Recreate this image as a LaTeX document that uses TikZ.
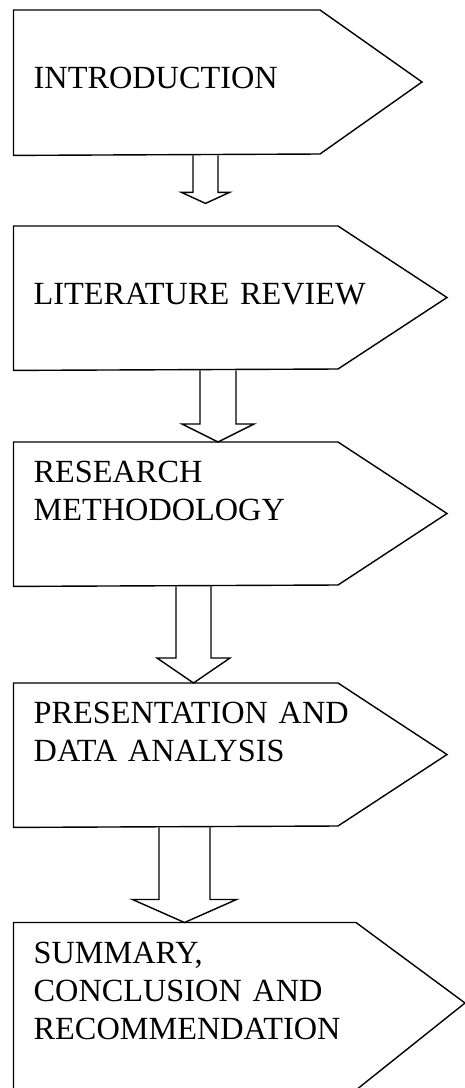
\documentclass[tikz,border=0pt]{standalone}
\usepackage{fontspec}
\setmainfont{Liberation Serif}
\usetikzlibrary{calc}

\begin{document}
\begin{tikzpicture}[x=1pt,y=1pt,line width=1.4pt,
                    stage/.style={anchor=north west, inner xsep=19.5pt, inner ysep=0pt,
                                  text width=400pt, align=left, text height=40pt,
                                  font=\fontsize{32.3}{38}\selectfont},
                    outline/.style={draw, line join=miter},
                    blockarrow/.style n args={3}{draw, to path={
                        ($(\tikztostart)+(-#1,0)$) -- ($(\tikztotarget)+(-#1,#3)$)
                        -- ($(\tikztotarget)+(-#2,#3)$) -- (\tikztotarget)
                        -- ($(\tikztotarget)+(#2,#3)$) -- ($(\tikztotarget)+(#1,#3)$)
                        -- ($(\tikztostart)+(#1,0)$)}}]
\useasboundingbox (0,0) rectangle (465,-1088);
\clip (0,0) rectangle (465,-1088);

% stages
\node[stage, text depth=104pt] (intro) at (13.5,-10) {\mbox{}\\INTRODUCTION};
\node[stage, text depth=103pt] (litreview) at (13.5,-226) {\mbox{}\\LITERATURE REVIEW};
\node[stage, text depth=103pt] (method) at (13.5,-442) {RESEARCH\\METHODOLOGY};
\node[stage, text depth=103pt] (analysis) at (13.5,-683) {PRESENTATION AND\\DATA ANALYSIS};
\node[stage, text depth=127.5pt] (summary) at (13.5,-922.5) {SUMMARY,\\CONCLUSION AND\\RECOMMENDATION};

% pointed outlines
\draw[outline] (intro.north west) -- ++(306.5,0) -- ++(102,-72) -- ++(-102,-72) -- (intro.south west) -- cycle;
\draw[outline] (litreview.north west) -- ++(324.5,0) -- ++(109,-71.5) -- ++(-109,-71.5) -- (litreview.south west) -- cycle;
\draw[outline] (method.north west) -- ++(324.5,0) -- ++(109,-71.5) -- ++(-109,-71.5) -- (method.south west) -- cycle;
\draw[outline] (analysis.north west) -- ++(324.5,0) -- ++(109,-71.5) -- ++(-109,-71.5) -- (analysis.south west) -- cycle;
\draw[outline] (summary.north west) -- ++(342.5,0) -- ++(109,-80.5) -- ++(-109,-87) -- (summary.south west) -- cycle;

% hollow arrows between stages
\coordinate (introtip) at ($(intro.south west)+(192,-48)$);
\draw[blockarrow={12.5}{24}{11}] ($(intro.south west)+(192,0)$) to (introtip);
\draw[blockarrow={18}{36}{18}] ($(litreview.south west)+(204.5,0)$) to ($(method.north west)+(204.5,0)$);
\draw[blockarrow={17.5}{36.5}{25}] ($(method.south west)+(180,0)$) to ($(analysis.north west)+(180,0)$);
\draw[blockarrow={25.5}{52}{23}] ($(analysis.south west)+(171,0)$) to ($(summary.north west)+(171,0)$);
\end{tikzpicture}
\end{document}
